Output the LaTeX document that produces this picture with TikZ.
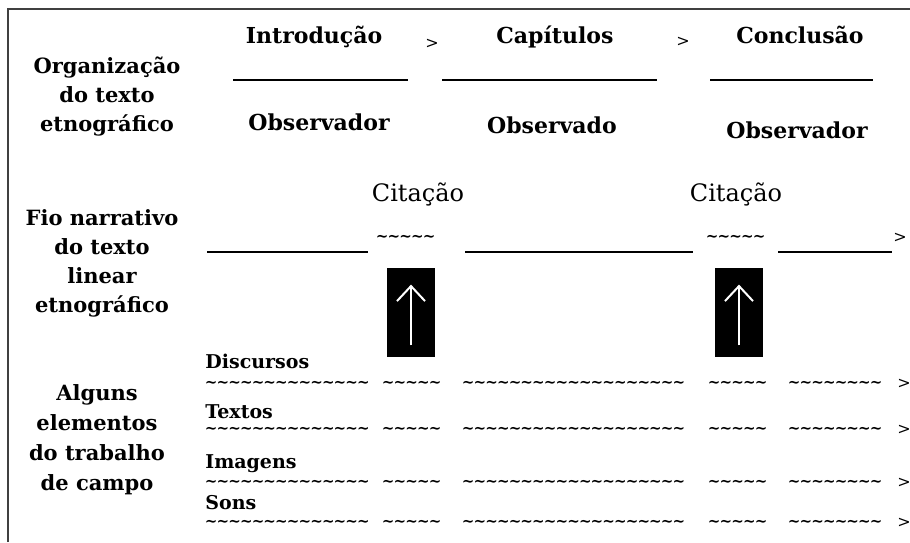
\documentclass[tikz,border=0pt]{standalone}
\usepackage{fontspec}
\setmainfont{DejaVu Serif}
\usetikzlibrary{positioning}
\usetikzlibrary{arrows.meta}
\newcommand{\tildes}[1]{\foreach \k in {1,...,#1}{\makebox[5.85pt]{\char`\~}}}
\tikzset{
    heading/.style = {font=\bfseries\fontsize{11}{13}\selectfont, inner sep=0pt, anchor=base},
    sidelabel/.style = {font=\bfseries\fontsize{10.5}{14.5}\selectfont, align=center, inner sep=0pt},
    citlabel/.style = {font=\fontsize{12}{14}\selectfont, inner sep=0pt, anchor=base},
    itemlabel/.style = {font=\bfseries\fontsize{9.5}{11}\selectfont, inner sep=0pt, anchor=base west},
    order/.style = {font=\fontsize{8}{9}\selectfont, inner sep=0pt},
    wave/.style = {font=\bfseries\fontsize{7.5}{8}\selectfont, inner sep=0pt, anchor=west},
    rule/.style = {line width=1pt},
    quotebox/.style = {fill=black, minimum width=24pt, minimum height=44.5pt, inner sep=0pt},
    quotearrow/.style = {white, line width=1pt, -{Straight Barb[length=7.5pt,width=14pt]}}}

\begin{document}
\begin{tikzpicture}[x=0.5pt,y=-0.5pt]
        \useasboundingbox (0,0) rectangle (910,542);
        \draw[line width=1pt, black!75] (8,542) -- (8,9) -- (910,9);
        % organizacao do texto
        \node[sidelabel] (org) at (107,97) {Organização\\do texto\\etnográfico};
        \node[heading] (intro) at (314,43) {Introdução};
        \node[heading] (cap) at (555,43) {Capítulos};
        \node[heading] (concl) at (800,43) {Conclusão};
        \node[order] (gt1) at (432,44) {>};
        \node[order] (gt2) at (683,42) {>};
        \draw[rule] (233,80) -- (408,80) (442,80) -- (657,80) (710,80) -- (873,80);
        \node[heading] (obs1) at (319,130) {Observador};
        \node[heading] (obs2) at (552,133) {Observado};
        \node[heading] (obs3) at (797,138) {Observador};
        % fio narrativo
        \node[sidelabel] (fio) at (102,263) {Fio narrativo\\do texto\\linear\\etnográfico};
        \node[citlabel] (cit1) at (418,201) {Citação};
        \node[citlabel] (cit2) at (736,201) {Citação};
        \node[wave] (til1) at (376,238) {\tildes{5}};
        \node[wave] (til2) at (706,238) {\tildes{5}};
        \node[order] (gt3) at (900,238) {>};
        \draw[rule] (207,252) -- (368,252) (465,252) -- (693,252) (778,252) -- (892,252);
        \node[quotebox] (box1) at (411,312.5) {};
        \node[quotebox] (box2) at (739,312.5) {};
        \draw[quotearrow] ([yshift=6pt]box1.south) -- ([yshift=-8.5pt]box1.north);
        \draw[quotearrow] ([yshift=6pt]box2.south) -- ([yshift=-8.5pt]box2.north);
        % trabalho de campo
        \node[sidelabel, font=\bfseries\fontsize{10.5}{15}\selectfont] (campo) at (97,440) {Alguns\\elementos\\do trabalho\\de campo};
        \foreach \lab/\base/\w [count=\i] in {Discursos/368/384, Textos/418/430, Imagens/468/483, Sons/509/523} {
            \node[itemlabel] (item\i) at (205,\base) {\lab};
            \foreach \x/\n [count=\j] in {205/14, 382/5, 462/19, 708/5, 788/8}
                \node[wave] (wave\i\j) at (\x,\w) {\tildes{\n}};
            \node[order] (end\i) at (904,\w) {>};
        }
\end{tikzpicture}
\end{document}
